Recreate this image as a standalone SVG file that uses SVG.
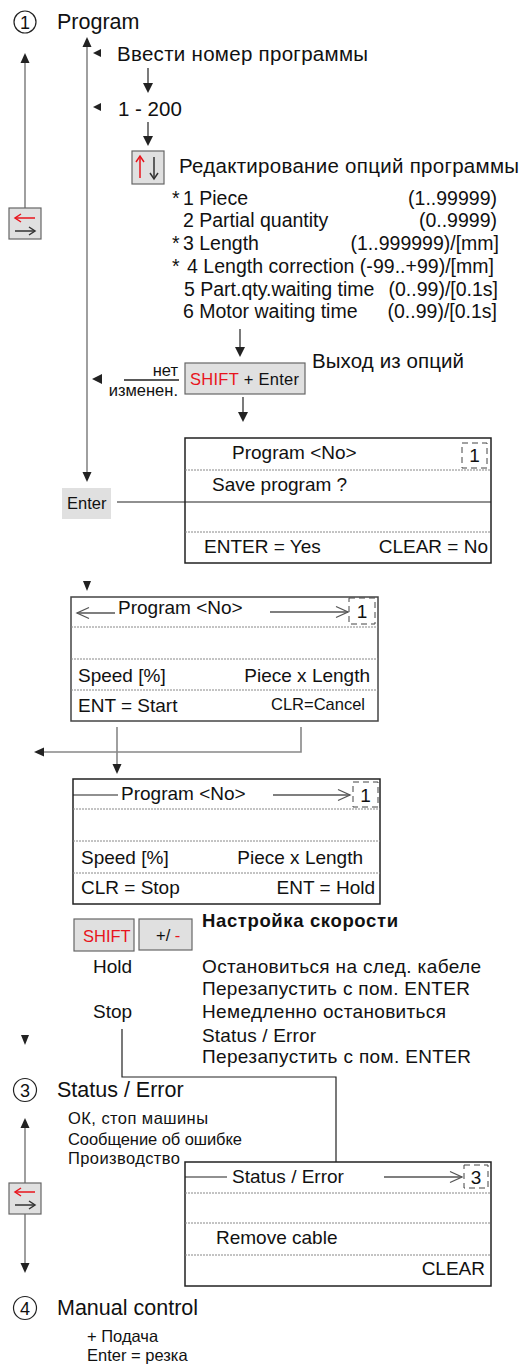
<svg xmlns="http://www.w3.org/2000/svg" width="530" height="1364" viewBox="0 0 530 1364">
<style>
text{font-family:"Liberation Sans",Arial,sans-serif;fill:#111}
.t21{font-size:21.5px}
.t20{font-size:20.5px}
.t19{font-size:19px}
.t195{font-size:19.5px}
.t18{font-size:19px}
.t16{font-size:16.5px}
.t15{font-size:16.5px}
.red{fill:#e8141c}
.gl{stroke:#888;stroke-width:1.6;fill:none}
.bl{stroke:#222;stroke-width:1.2;fill:none}
.head{fill:#222}
.key{fill:#e0e0e0;stroke:#666;stroke-width:1.2}
.scr{fill:#fff;stroke:#222;stroke-width:1.5}
.dot{stroke:#888;stroke-width:1;stroke-dasharray:2 1;fill:none}
.dash{stroke:#444;stroke-width:1;stroke-dasharray:6 4;fill:none}
.open{stroke:#555;stroke-width:1.3;fill:none}
.circ{fill:#fff;stroke:#222;stroke-width:1.2}
.ira{stroke:#e8141c;stroke-width:1.5;fill:none}
.ika{stroke:#333;stroke-width:1.5;fill:none}
</style>

<g id="connectors">
  <line class="gl" x1="25" y1="60" x2="25" y2="208"/>
  <polygon class="head" points="25,53 20.5,63 29.5,63"/>
  <line class="gl" x1="87" y1="44" x2="87" y2="475"/>
  <polygon class="head" points="87,37 82.5,47 91.5,47"/>
  <polygon class="head" points="87,482 82.5,472 91.5,472"/>
  <polygon class="head" points="93,53 101,49 101,57"/>
  <polygon class="head" points="93,107 101,103 101,111"/>
  <polygon class="head" points="92,379 102,374 102,384"/>
  <line class="bl" x1="148" y1="68" x2="148" y2="86"/>
  <polygon class="head" points="148,93 143,83 153,83"/>
  <line class="bl" x1="148" y1="122" x2="148" y2="140"/>
  <polygon class="head" points="148,146 143,136 153,136"/>
  <line class="bl" x1="240" y1="329" x2="240" y2="350"/>
  <polygon class="head" points="240,357 235,347 245,347"/>
  <line class="bl" x1="243" y1="397" x2="243" y2="415"/>
  <polygon class="head" points="243,422 238,412 248,412"/>
  <line x1="124" y1="380" x2="179" y2="380" stroke="#222" stroke-width="1.6"/>
  <line class="bl" x1="117" y1="502" x2="185" y2="502"/>
  <polygon class="head" points="87,591 83,581 91,581"/>
  <line class="gl" x1="117" y1="727" x2="117" y2="767"/>
  <polygon class="head" points="117,774 112.5,764 121.5,764"/>
  <polyline class="gl" points="301,727 301,752 42,752"/>
  <polygon class="head" points="34,752 44,747.5 44,756.5"/>
  <polygon class="head" points="25,1045 21,1035 29,1035"/>
  <polyline class="bl" points="122,1029 122,1077 336,1077 336,1162"/>
  <line class="gl" x1="25" y1="1125" x2="25" y2="1183"/>
  <polygon class="head" points="25,1118 20.5,1128 29.5,1128"/>
  <line class="gl" x1="25" y1="1214" x2="25" y2="1266"/>
  <polygon class="head" points="25,1273 20.5,1263 29.5,1263"/>
</g>

<g id="n-program-title">
  <circle class="circ" cx="25" cy="22" r="11"/>
  <text x="25" y="28.5" text-anchor="middle" style="font-size:18px">1</text>
  <text class="t21" x="57" y="29">Program</text>
</g>

<g id="n-enter-number">
  <text class="t20" x="117" y="61" textLength="251">Ввести номер программы</text>
</g>

<g id="n-range">
  <text class="t20" x="118" y="116">1 - 200</text>
</g>

<g id="n-updown-key">
  <rect class="key" x="132" y="151" width="32" height="33"/>
  <line class="ira" x1="140" y1="157" x2="140" y2="178"/>
  <polyline class="ira" points="136,162 140,156 144,162"/>
  <line class="ika" x1="154" y1="157" x2="154" y2="178"/>
  <polyline class="ika" points="150,173 154,179 158,173"/>
</g>

<g id="n-edit-options">
  <text class="t20" x="179" y="173" textLength="340">Редактирование опций программы</text>
  <text class="t195" x="172" y="205">*</text>
  <text class="t195" x="183" y="205">1 Piece</text>
  <text class="t195" x="497" y="205" text-anchor="end">(1..99999)</text>
  <text class="t195" x="183" y="227">2 Partial quantity</text>
  <text class="t195" x="497" y="227" text-anchor="end">(0..9999)</text>
  <text class="t195" x="172" y="250">*</text>
  <text class="t195" x="183" y="250">3 Length</text>
  <text class="t195" x="499" y="250" text-anchor="end">(1..999999)/[mm]</text>
  <text class="t195" x="172" y="273">*</text>
  <text class="t195" x="187" y="273" textLength="307">4 Length correction (-99..+99)/[mm]</text>
  <text class="t195" x="184" y="296">5 Part.qty.waiting time</text>
  <text class="t195" x="498" y="296" text-anchor="end">(0..99)/[0.1s]</text>
  <text class="t195" x="183" y="318">6 Motor waiting time</text>
  <text class="t195" x="497" y="318" text-anchor="end">(0..99)/[0.1s]</text>
</g>

<g id="n-leftright-key-1">
  <rect class="key" x="9" y="208" width="32" height="31"/>
  <line class="ira" x1="15" y1="218" x2="35" y2="218"/>
  <polyline class="ira" points="21,214 15,218 21,222"/>
  <line class="ika" x1="15" y1="231" x2="35" y2="231"/>
  <polyline class="ika" points="29,227 35,231 29,235"/>
</g>

<g id="n-shift-enter">
  <rect class="key" x="185" y="363" width="120" height="31"/>
  <text class="t16" x="190" y="385" textLength="109"><tspan class="red">SHIFT</tspan> + Enter</text>
  <text class="t20" x="312" y="368" textLength="152">Выход из опций</text>
</g>

<g id="n-no-change">
  <text class="t16" x="178" y="376" text-anchor="end">нет</text>
  <text class="t16" x="178" y="396" text-anchor="end">изменен.</text>
</g>

<g id="n-enter-key">
  <rect x="62" y="488" width="49" height="31" fill="#e0e0e0"/>
  <text class="t16" x="67" y="509">Enter</text>
</g>

<g id="n-save-screen">
  <rect class="scr" x="185" y="438" width="306" height="125"/>
  <line class="dot" x1="185" y1="470" x2="491" y2="470"/>
  <line x1="185" y1="502" x2="491" y2="502" stroke="#222" stroke-width="1.2"/>
  <line class="dot" x1="185" y1="532" x2="491" y2="532"/>
  <text class="t19" x="232" y="459">Program &lt;No&gt;</text>
  <rect class="dash" x="462" y="443" width="25" height="25"/>
  <text class="t19" x="474.5" y="462" text-anchor="middle">1</text>
  <text class="t19" x="212" y="491">Save program ?</text>
  <text class="t19" x="204" y="553">ENTER = Yes</text>
  <text class="t19" x="488" y="553" text-anchor="end">CLEAR = No</text>
</g>

<g id="n-start-screen">
  <rect class="scr" x="71" y="597" width="307" height="124" style="stroke:#444"/>
  <line class="dot" x1="71" y1="627" x2="378" y2="627"/>
  <line class="dot" x1="71" y1="659" x2="378" y2="659"/>
  <line class="dot" x1="71" y1="690" x2="378" y2="690"/>
  <line class="open" x1="77" y1="613" x2="115" y2="613"/>
  <polyline class="open" points="89,607.5 77,613 89,618.5"/>
  <text class="t19" x="118" y="614">Program &lt;No&gt;</text>
  <line class="open" x1="270" y1="612" x2="348" y2="612"/>
  <polyline class="open" points="336,606.5 348,612 336,617.5"/>
  <rect class="dash" x="349" y="598" width="26" height="26"/>
  <text class="t19" x="362" y="618" text-anchor="middle">1</text>
  <text class="t19" x="78" y="682">Speed [%]</text>
  <text class="t19" x="370" y="682" text-anchor="end">Piece x Length</text>
  <text class="t19" x="78" y="712">ENT = Start</text>
  <text class="t16" x="365" y="710" text-anchor="end">CLR=Cancel</text>
</g>

<g id="n-run-screen">
  <rect class="scr" x="73" y="779" width="307" height="125"/>
  <line class="dot" x1="73" y1="809" x2="380" y2="809"/>
  <line class="dot" x1="73" y1="841" x2="380" y2="841"/>
  <line class="dot" x1="73" y1="873" x2="380" y2="873"/>
  <line class="bl" x1="73" y1="795" x2="118" y2="795"/>
  <text class="t19" x="121" y="800">Program &lt;No&gt;</text>
  <line class="open" x1="273" y1="795" x2="350" y2="795"/>
  <polyline class="open" points="338,789.5 350,795 338,800.5"/>
  <rect class="dash" x="353" y="782" width="25" height="25"/>
  <text class="t19" x="365.5" y="802" text-anchor="middle">1</text>
  <text class="t19" x="81" y="864">Speed [%]</text>
  <text class="t19" x="363" y="864" text-anchor="end">Piece x Length</text>
  <text class="t19" x="81" y="894">CLR = Stop</text>
  <text class="t19" x="375" y="894" text-anchor="end">ENT = Hold</text>
</g>

<g id="n-speed-keys">
  <rect class="key" x="74" y="919" width="60" height="32"/>
  <text class="t16 red" x="83" y="942">SHIFT</text>
  <rect class="key" x="139" y="919" width="53" height="31"/>
  <text class="t16" x="156" y="941">+/ <tspan class="red">-</tspan></text>
  <text x="202" y="927" style="font-size:18.5px;font-weight:bold" textLength="196">Настройка скорости</text>
</g>

<g id="n-hold-stop">
  <text class="t18" x="93" y="973">Hold</text>
  <text class="t18" x="202" y="973" textLength="279">Остановиться на след. кабеле</text>
  <text class="t18" x="202" y="995" textLength="268">Перезапустить с пом. ENTER</text>
  <text class="t18" x="93" y="1018">Stop</text>
  <text class="t18" x="202" y="1018" textLength="244">Немедленно остановиться</text>
  <text class="t18" x="202" y="1042" textLength="114">Status / Error</text>
  <text class="t18" x="202" y="1063" textLength="269">Перезапустить с пом. ENTER</text>
</g>

<g id="n-status-title">
  <circle class="circ" cx="25" cy="1090" r="11.5"/>
  <text x="25" y="1096.5" text-anchor="middle" style="font-size:18px">3</text>
  <text class="t21" x="57" y="1097">Status / Error</text>
  <text class="t15" x="68" y="1124" textLength="140">ОК,  стоп машины</text>
  <text class="t15" x="68" y="1145" textLength="174">Сообщение об ошибке</text>
  <text class="t15" x="68" y="1164" textLength="112">Производство</text>
</g>

<g id="n-leftright-key-3">
  <rect class="key" x="9" y="1183" width="32" height="31"/>
  <line class="ira" x1="15" y1="1192" x2="35" y2="1192"/>
  <polyline class="ira" points="21,1188 15,1192 21,1196"/>
  <line class="ika" x1="15" y1="1205" x2="35" y2="1205"/>
  <polyline class="ika" points="29,1201 35,1205 29,1209"/>
</g>

<g id="n-status-screen">
  <rect class="scr" x="185" y="1162" width="306" height="124"/>
  <line class="dot" x1="185" y1="1193" x2="491" y2="1193"/>
  <line class="dot" x1="185" y1="1223" x2="491" y2="1223"/>
  <line class="dot" x1="185" y1="1255" x2="491" y2="1255"/>
  <line class="bl" x1="185" y1="1177" x2="227" y2="1177"/>
  <text class="t19" x="232" y="1183">Status / Error</text>
  <line class="open" x1="384" y1="1177" x2="462" y2="1177"/>
  <polyline class="open" points="450,1171.5 462,1177 450,1182.5"/>
  <rect class="dash" x="464" y="1165" width="24" height="23"/>
  <text class="t19" x="476" y="1184" text-anchor="middle">3</text>
  <text class="t19" x="216" y="1244">Remove cable</text>
  <text class="t19" x="485" y="1275" text-anchor="end">CLEAR</text>
</g>

<g id="n-manual">
  <circle class="circ" cx="25" cy="1308" r="11.5"/>
  <text x="25" y="1314.5" text-anchor="middle" style="font-size:18px">4</text>
  <text class="t21" x="57" y="1315">Manual control</text>
  <text class="t16" x="87" y="1342">+  Подача</text>
  <text class="t16" x="87" y="1361">Enter = резка</text>
</g>
</svg>
